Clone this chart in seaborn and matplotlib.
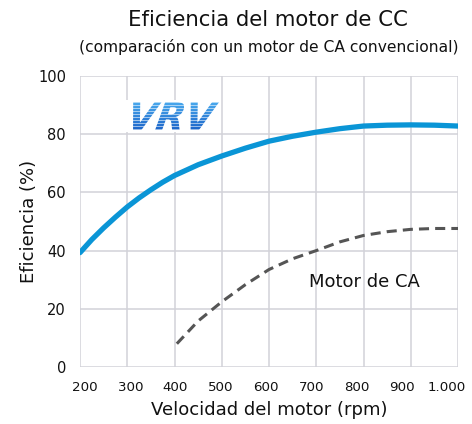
import numpy as np
import pandas as pd
import matplotlib
matplotlib.use("Agg")
import matplotlib.pyplot as plt
import seaborn as sns
from matplotlib.textpath import TextPath
from matplotlib.font_manager import FontProperties
from matplotlib.patches import PathPatch
from matplotlib.transforms import Affine2D

# Efficiency of the DC motor (VRV) across speed
rpm_cc = [200, 225, 250, 275, 300, 325, 350, 375, 400, 450, 500, 550, 600, 650, 700, 750, 800, 850, 900, 950, 1000]
eff_cc = [39.3, 43.8, 47.8, 51.5, 55.0, 58.1, 60.9, 63.5, 65.8, 69.5, 72.5, 75.2, 77.6, 79.3, 80.7, 81.9, 82.8, 83.1, 83.2, 83.1, 82.8]

# Efficiency of a conventional AC motor
rpm_ca = [405, 450, 500, 550, 600, 650, 700, 750, 800, 850, 900, 950, 1000]
eff_ca = [8.0, 15.8, 22.4, 28.3, 33.5, 37.2, 40.0, 43.0, 45.2, 46.5, 47.3, 47.6, 47.6]

x_ticks = [200, 300, 400, 500, 600, 700, 800, 900, 1000]
x_tick_labels = ["200", "300", "400", "500", "600", "700", "800", "900", "1.000"]
y_ticks = [0, 20, 40, 60, 80, 100]

title = "Eficiencia del motor de CC"
subtitle = "(comparación con un motor de CA convencional)"
x_label = "Velocidad del motor (rpm)"
y_label = "Eficiencia (%)"
ca_label = "Motor de CA"

sns.set_style("white")
plt.rcParams["font.family"] = ["DejaVu Sans"]

fig = plt.figure(figsize=(4.72, 4.24), dpi=100)
ax = fig.add_axes([80 / 472, 1 - 367 / 424, 378 / 472, 291 / 424])

df_cc = pd.DataFrame({"rpm": rpm_cc, "eff": eff_cc})
df_ca = pd.DataFrame({"rpm": rpm_ca, "eff": eff_ca})

sns.lineplot(data=df_cc, x="rpm", y="eff", ax=ax, color="#0a95d6", linewidth=3.8,
             solid_capstyle="round", solid_joinstyle="round", zorder=4)
sns.lineplot(data=df_ca, x="rpm", y="eff", ax=ax, color="#555555", linewidth=2.2,
             dashes=False, zorder=3)
ax.lines[-1].set_dashes([3.3, 2.0])

ax.set_xlim(200, 1000)
ax.set_ylim(0, 100)
# gridlines on the major ticks, labels on a slightly tighter row of minor ticks
ax.set_xticks(x_ticks)
ax.set_xticklabels([""] * len(x_ticks))
label_pos = np.linspace(210.6, 976.7, len(x_tick_labels))
ax.set_xticks(label_pos, minor=True)
ax.set_xticklabels(x_tick_labels, minor=True, fontsize=9.6, color="#111111")
ax.set_yticks(y_ticks)
ax.set_yticklabels([str(v) for v in y_ticks], fontsize=10.5, color="#111111")
ax.tick_params(axis="x", which="both", length=0, pad=10)
ax.tick_params(axis="y", length=0, pad=10)
ax.grid(True, which="major", color="#d2d2d9", linewidth=1.1)
ax.grid(False, which="minor")
ax.set_axisbelow(True)
for s in ax.spines.values():
    s.set_visible(False)

ax.set_xlabel(x_label, fontsize=13, color="#111111", labelpad=5)
ax.set_ylabel(y_label, fontsize=13, color="#111111", labelpad=0)

ax.text(803, 29.2, ca_label, fontsize=13, color="#111111", ha="center", va="center")

fig.text(268 / 472, 1 - 20 / 424, title, fontsize=15.3, color="#111111",
         ha="center", va="center")
fig.text(269 / 472, 1 - 47 / 424, subtitle, fontsize=11.2, color="#111111",
         ha="center", va="center")

# VRV badge: striped italic lettering on a white box
lx0, ly0, lw, lh = 123, 100, 97, 32
logo_ax = fig.add_axes([lx0 / 472, 1 - (ly0 + lh) / 424, lw / 472, lh / 424])
logo_ax.set_xlim(0, lw)
logo_ax.set_ylim(0, lh)
logo_ax.axis("off")
logo_ax.add_patch(plt.Rectangle((0, 0), lw, lh, color="white", zorder=0))
tp = TextPath((0, 0), "VRV", size=10, prop=FontProperties(family="DejaVu Sans", weight="heavy"))
bb = tp.get_extents()
sx = 86 / bb.width
sy = 28 / bb.height
trans = (Affine2D().translate(-bb.x0, -bb.y0).scale(sx, sy)
         .skew_deg(20, 0).translate(0, 2))
path = trans.transform_path(tp)
patch = PathPatch(path, facecolor="none", edgecolor="none", transform=logo_ax.transData)
logo_ax.add_patch(patch)
rows = lh
stripe = np.zeros((rows, 2, 3))
top = np.array([0.30, 0.68, 0.94])
bot = np.array([0.10, 0.38, 0.78])
for i in range(rows):
    t = i / (rows - 1)
    base = top * (1 - t) + bot * t
    if i % 3 == 2:
        base = base * 0.45 + np.array([1.0, 1.0, 1.0]) * 0.55
    stripe[i, :] = base
img = logo_ax.imshow(stripe, extent=(0, lw, 0, lh), origin="upper", aspect="auto",
                     interpolation="nearest", zorder=1)
img.set_clip_path(patch)

fig.savefig("out.png", dpi=100, facecolor="white")
